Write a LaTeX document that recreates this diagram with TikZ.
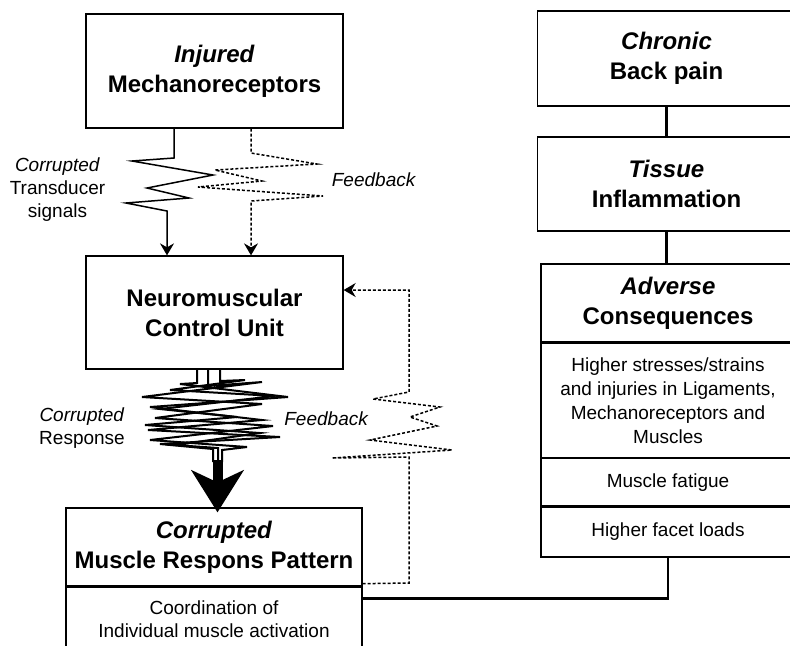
\documentclass[tikz,border=0pt]{standalone}
\usepackage{fontspec}
\setmainfont{Liberation Sans}
\usetikzlibrary{arrows.meta}

\tikzset{
  box/.style={draw, line width=0.65pt, align=center, inner sep=0pt,
    font=\fontsize{12}{15}\selectfont\bfseries},
  subbox/.style={draw, line width=0.65pt, align=center, inner sep=0pt,
    font=\fontsize{9.5}{12}\selectfont},
  lbl/.style={align=center, inner sep=0pt, font=\fontsize{9.5}{11.5}\selectfont},
  link/.style={line width=1.4pt},
  fback/.style={line width=0.75pt, dash pattern=on 1.5pt off 1pt},
  zz/.style={line width=1pt},
  tip/.style={-{Stealth[length=6pt,width=7pt,inset=2pt]}},
}

\begin{document}
\begin{tikzpicture}[x=0.5pt,y=-0.5pt]
  \useasboundingbox (0,0) rectangle (790,645);
  \clip (0,0) rectangle (790,645);

  % left column
  \node[box, minimum width=128.5pt, minimum height=57pt] (inj) at (214.5,71) {\textit{Injured}\\Mechanoreceptors};
  \node[box, minimum width=128.5pt, minimum height=56.5pt] (ncu) at (214.5,312.5) {Neuromuscular\\Control Unit};
  \node[box, minimum width=148pt, minimum height=39pt] (cmr) at (214,547) {\textit{Corrupted}\\Muscle Respons Pattern};
  \node[subbox, minimum width=148pt, minimum height=32pt, anchor=north,
    font=\fontsize{9.5}{11.5}\selectfont] (coord) at (cmr.south) {Coordination of\\Individual muscle activation};

  % right column
  \def \Heads {
    chr/58.5/47.5/Chronic/Back pain,
    tis/184/47/Tissue/Inflammation}
  \foreach \id / \y / \h / \first / \second in \Heads {
    \node[box, minimum width=129pt, minimum height=\h*1pt] (\id) at (666.5,\y) {\textit{\first}\\\second};
  }
  \node[box, minimum width=127pt, minimum height=39pt] (adv) at (668,303) {\textit{Adverse}\\Consequences};
  \node[subbox, minimum width=127pt, minimum height=57pt, anchor=north] (adv1) at (adv.south)
    {Higher stresses/strains\\and injuries in Ligaments,\\Mechanoreceptors and\\Muscles};
  \node[subbox, minimum width=127pt, minimum height=23.5pt, anchor=north] (adv2) at (adv1.south) {Muscle fatigue};
  \node[subbox, minimum width=127pt, minimum height=25pt, anchor=north] (adv3) at (adv2.south) {Higher facet loads};

  % labels
  \node[lbl] (cts) at (57.5,190) {\textit{Corrupted}\\Transducer\\signals};
  \node[lbl] (fb1) at (374,180) {\textit{Feedback}};
  \node[lbl] (crs) at (82,428) {\textit{Corrupted}\\Response};
  \node[lbl] (fb2) at (326.5,419) {\textit{Feedback}};

  % signals and feedback into the control unit
  \draw[line width=0.75pt, tip] ([xshift=-20.25pt]inj.south) -- (174,158) -- (132,161) -- (213,175) -- (147,188)
    -- (189,198) -- (126,203) -- (167,211) -- ([xshift=-23.75pt]ncu.north);
  \draw[fback, tip] ([xshift=18.25pt]inj.south) -- (251,153) -- (317,164) -- (215,170) -- (262,181)
    -- (198,187) -- (323,196) -- (251,201) -- ([xshift=18.25pt]ncu.north);

  % corrupted response
  \draw[zz] ([xshift=-8.75pt]ncu.south) -- (197,383) -- (180,384) -- (288,397) -- (150,407) -- (262,420)
    -- (148,430) -- (280,437) -- (160,444) -- (213,449) -- (213,462);
  \draw[zz] ([xshift=-3.25pt]ncu.south) -- (208,386) -- (262,382) -- (142,397) -- (262,404) -- (155,418)
    -- (273,426) -- (150,440) -- (247,447) -- (222,450) -- (222,462);
  \draw[zz] ([xshift=2.75pt]ncu.south) -- (220,381) -- (245,380) -- (170,390) -- (275,396) -- (160,409)
    -- (237,417) -- (145,425) -- (260,433) -- (175,445) -- (218,448) -- (218,462);
  \draw[line width=5pt, -{Stealth[length=21pt,width=26pt,inset=6pt]}] (217.5,460) -- ([shift={(1.75pt,-2.5pt)}]cmr.north);

  % feedback from the response pattern
  \draw[fback, tip] ([yshift=1.5pt]cmr.south east) -- (409,583) -- (409,457) -- (332,458) -- (452,450)
    -- (370,440) -- (437,426) -- (410,417) -- (440,407) -- (373,399) -- (409,392) -- (409,290)
    -- ([yshift=11.25pt]ncu.east);

  % consequences chain
  \draw[link] (chr.south) -- (chr.south |- tis.north);
  \draw[link] (tis.south) -- (tis.south |- adv.north);
  \draw[link] (adv3.south) |- ([yshift=-6pt]coord.north east);
\end{tikzpicture}
\end{document}
